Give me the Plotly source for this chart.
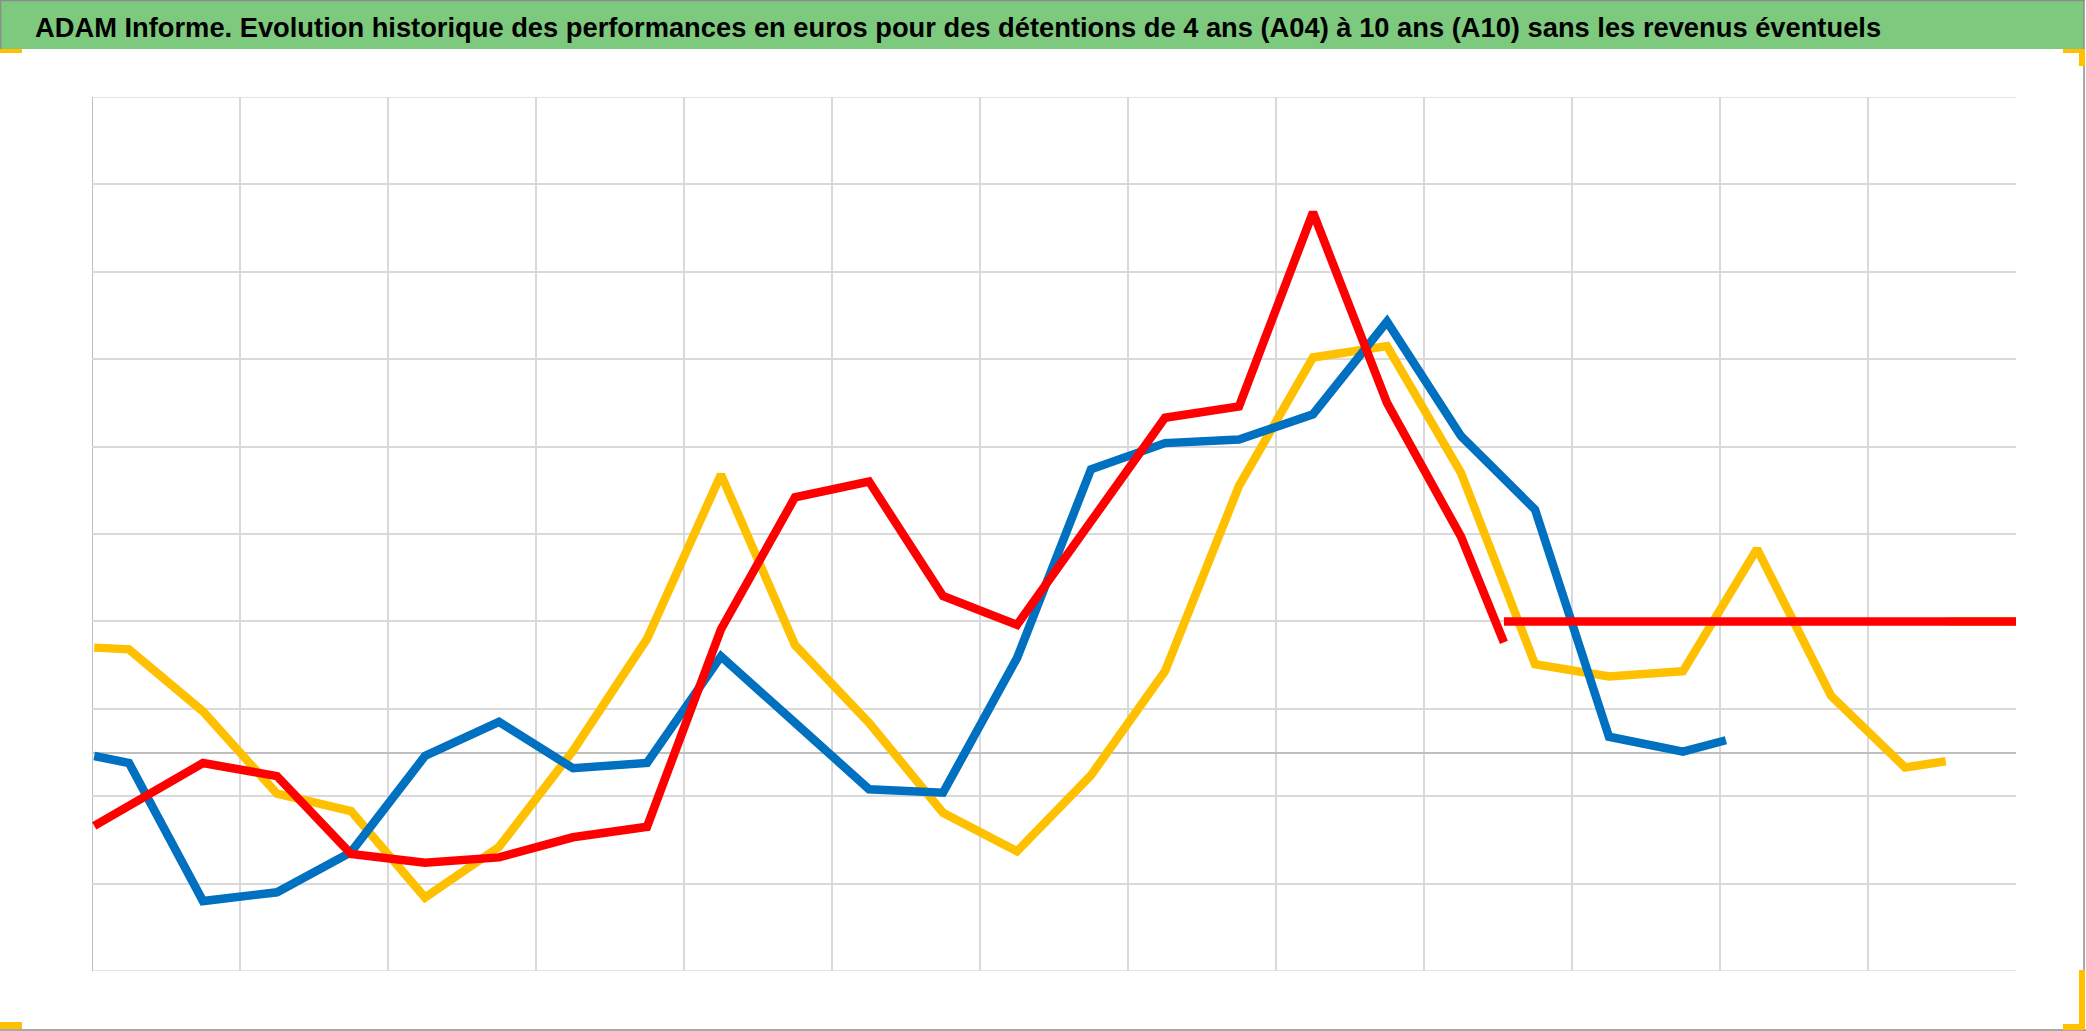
import plotly.graph_objects as go

W, H = 2086, 1031

title_text = ("ADAM Informe. Evolution historique des performances en euros pour des "
              "détentions de 4 ans (A04) à 10 ans (A10) sans les revenus éventuels")

# periods (years from start of axis), values in %
periods_yellow = [0.03, 0.5, 1.5, 2.5, 3.5, 4.5, 5.5, 6.5, 7.5, 8.5, 9.5, 10.5, 11.5, 12.5,
                  13.5, 14.5, 15.5, 16.5, 17.5, 18.5, 19.5, 20.5, 21.5, 22.5, 23.5, 24.5, 25.05]
values_yellow = [12.0, 11.8, 4.7, -4.7, -6.7, -16.6, -10.8, 0.2, 13.0, 31.8, 12.3, 3.4, -6.9, -11.3,
                 -2.6, 9.3, 30.5, 45.2, 46.5, 32.0, 10.1, 8.7, 9.3, 23.3, 6.5, -1.7, -1.0]

periods_blue = [0.03, 0.5, 1.5, 2.5, 3.5, 4.5, 5.5, 6.5, 7.5, 8.5, 9.5, 10.5, 11.5, 12.5,
                13.5, 14.5, 15.5, 16.5, 17.5, 18.5, 19.5, 20.5, 21.5, 22.08]
values_blue = [-0.4, -1.2, -17.0, -16.0, -11.4, -0.4, 3.5, -1.8, -1.2, 11.0, 3.4, -4.2, -4.6, 10.8,
               32.4, 35.4, 35.8, 38.7, 49.3, 36.2, 27.8, 1.8, 0.1, 1.4]

periods_red = [0.03, 1.5, 2.5, 3.5, 4.5, 5.5, 6.5, 7.5, 8.5, 9.5, 10.5, 11.5, 12.5,
               13.5, 14.5, 15.5, 16.5, 17.5, 18.5, 19.08]
values_red = [-8.4, -1.2, -2.7, -11.6, -12.6, -12.0, -9.7, -8.5, 14.1, 29.2, 31.0, 17.9, 14.6,
              26.3, 38.3, 39.6, 61.8, 40.0, 24.7, 12.6]

# horizontal reference levels after each series ends
level_periods_yellow = [25.05, 26.0]
level_periods_red = [19.08, 26.0]
level_value = [15.0, 15.0]

x_grid = [0, 2, 4, 6, 8, 10, 12, 14, 16, 18, 20, 22, 24]
y_grid = [-25, -15, -5, 5, 15, 25, 35, 45, 55, 65, 75]
Y_MIN, Y_MAX, X_MAX = -25, 75, 26

C_YELLOW = "#FFC000"
C_BLUE = "#0070C0"
C_RED = "#FF0000"
LW = 8.5
GRID = "#D9D9D9"

fig = go.Figure()
fig.add_trace(go.Scatter(x=level_periods_yellow, y=level_value, mode="lines",
                         line=dict(color=C_YELLOW, width=LW), hoverinfo="skip"))
fig.add_trace(go.Scatter(x=periods_yellow, y=values_yellow, mode="lines",
                         line=dict(color=C_YELLOW, width=LW), name="A10"))
fig.add_trace(go.Scatter(x=periods_blue, y=values_blue, mode="lines",
                         line=dict(color=C_BLUE, width=LW), name="A07"))
fig.add_trace(go.Scatter(x=periods_red, y=values_red, mode="lines",
                         line=dict(color=C_RED, width=LW), name="A04"))
fig.add_trace(go.Scatter(x=level_periods_red, y=level_value, mode="lines",
                         line=dict(color=C_RED, width=LW), hoverinfo="skip"))

def px(v):
    return v / W

def py(v):
    return 1 - v / H

shapes = []
# green title band
shapes.append(dict(type="rect", xref="paper", yref="paper", x0=0, x1=px(2084), y0=py(49), y1=1,
                   fillcolor="#7DC97D", line=dict(width=0), layer="below"))
# outer gray frame (top, left, right, bottom)
for (x0, y0, x1, y1) in [(0, 0.5, 2085, 0.5), (0.5, 0, 0.5, 50), (2084, 0, 2084, 1031), (0, 1030, 2086, 1030)]:
    shapes.append(dict(type="line", xref="paper", yref="paper", x0=px(x0), x1=px(x1), y0=py(y0), y1=py(y1),
                       line=dict(color="#8C8C8C", width=1.5)))
# yellow selection corner marks
for (x0, y0, x1, y1) in [(0, 49, 22, 53), (0, 1022, 22, 1029), (2063, 49, 2085, 53), (2079, 49, 2085, 66),
                          (2079, 970, 2085, 1030), (2063, 1024, 2085, 1030)]:
    shapes.append(dict(type="rect", xref="paper", yref="paper", x0=px(x0), x1=px(x1), y0=py(y1), y1=py(y0),
                       fillcolor="#FFC000", line=dict(width=0)))
# top and bottom gridlines of the plot area
for yv in (Y_MIN, Y_MAX):
    shapes.append(dict(type="line", xref="x", yref="y", x0=0, x1=X_MAX, y0=yv, y1=yv,
                       line=dict(color=GRID, width=1.5), layer="below"))
# left vertical axis line
shapes.append(dict(type="line", xref="x", yref="y", x0=0, x1=0, y0=Y_MIN, y1=Y_MAX,
                   line=dict(color="#BFBFBF", width=2), layer="below"))

fig.update_layout(
    width=W, height=H,
    margin=dict(l=0, r=0, t=0, b=0),
    paper_bgcolor="white", plot_bgcolor="white",
    showlegend=False,
    shapes=shapes,
    annotations=[dict(text="<b>" + title_text + "</b>", xref="paper", yref="paper", x=px(33), y=py(27),
                      xanchor="left", yanchor="middle", showarrow=False,
                      font=dict(family="Liberation Sans, Arial, sans-serif", size=27.3,
                                color="black"))],
    xaxis=dict(domain=[px(92), px(2016)], range=[0, X_MAX], tickvals=x_grid, showticklabels=False,
               showgrid=True, gridcolor=GRID, gridwidth=1.5, zeroline=False,
               showline=False, ticks=""),
    yaxis=dict(domain=[1 - 971 / H, 1 - 97 / H], range=[Y_MIN, Y_MAX], tickvals=y_grid, showticklabels=False,
               showgrid=True, gridcolor=GRID, gridwidth=1.5, zeroline=True, zerolinecolor="#BFBFBF",
               zerolinewidth=2, showline=False, ticks=""),
)

fig.write_html("out.html", config={"displayModeBar": False},
               post_script="document.body.style.margin='0';")
